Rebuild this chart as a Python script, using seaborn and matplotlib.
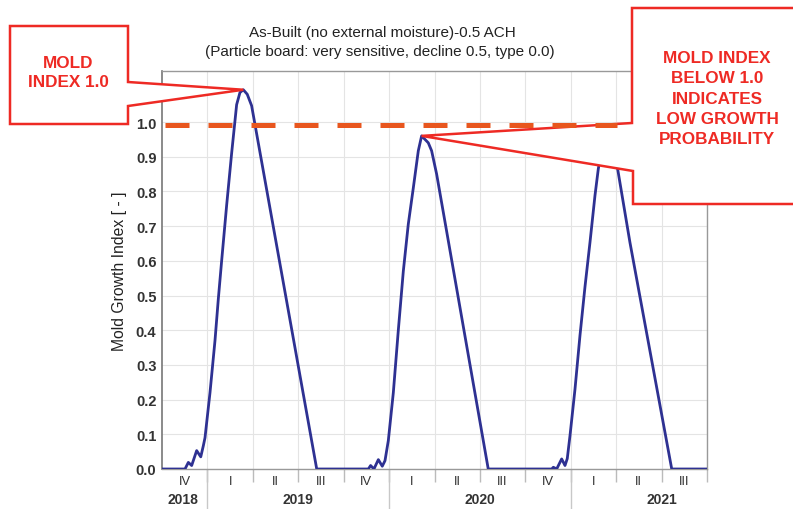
import numpy as np
import pandas as pd
import matplotlib
matplotlib.use("Agg")
import matplotlib.pyplot as plt
import seaborn as sns
from matplotlib.patches import Polygon
from matplotlib.transforms import blended_transform_factory

# ---------------- data ----------------
# months since 1 Oct 2018
months = [0, 1.52, 1.74, 1.96, 2.29, 2.56, 2.73, 2.84, 3.17, 3.50, 3.72, 3.94, 4.27, 4.60, 4.93, 5.15, 5.37,
          5.63, 5.92, 10.22,
          13.63, 13.78, 14.0, 14.29, 14.55, 14.73, 14.95, 15.28, 15.61, 15.94, 16.27, 16.60, 16.93, 17.15,
          17.59, 17.81, 18.14, 21.55,
          25.74, 25.85, 26.07, 26.4, 26.62, 26.77, 26.95, 27.28, 27.61, 27.94, 28.27, 28.60, 28.82, 29.05,
          29.3, 29.6, 29.85, 30.1, 30.91, 33.67, 36]
mold_index = [0, 0, 0.019, 0.01, 0.053, 0.035, 0.067, 0.09, 0.22, 0.37, 0.49, 0.60, 0.76, 0.91, 1.05,
              1.085, 1.093, 1.08, 1.047, 0,
              0, 0.01, 0, 0.027, 0.008, 0.024, 0.082, 0.22, 0.40, 0.57, 0.706, 0.81, 0.917, 0.96,
              0.94, 0.917, 0.85, 0,
              0, 0.005, 0, 0.029, 0.01, 0.03, 0.096, 0.23, 0.385, 0.525, 0.653, 0.788, 0.865, 0.92,
              0.955, 0.945, 0.91, 0.864, 0.653, 0, 0]
threshold = 0.99
quarter_labels = ["IV", "I", "II", "III", "IV", "I", "II", "III", "IV", "I", "II", "III"]
year_labels = ["2018", "2019", "2020", "2021"]
year_label_pos = [1.4, 9.0, 21.0, 33.0]
year_starts = [3, 15, 27]
ytick_vals = [0.0, 0.1, 0.2, 0.3, 0.4, 0.5, 0.6, 0.7, 0.8, 0.9, 1.0]
title_lines = ["As-Built (no external moisture)-0.5 ACH",
               "(Particle board: very sensitive, decline 0.5, type 0.0)"]
callout_left = "MOLD\nINDEX 1.0"
callout_right = "MOLD INDEX\nBELOW 1.0\nINDICATES\nLOW GROWTH\nPROBABILITY"

df = pd.DataFrame({"month": months, "index": mold_index})

# ---------------- style ----------------
sns.set_theme(style="white")
plt.rcParams["font.family"] = ["Liberation Sans", "DejaVu Sans"]

W, H = 793, 510
fig = plt.figure(figsize=(W / 100, H / 100), dpi=100)
ax = fig.add_axes([162 / W, 1 - 470 / H, (707 - 162) / W, (470 - 72) / H])


def fpx(x, y):
    return (x / W, 1 - y / H)


sns.lineplot(data=df, x="month", y="index", ax=ax, color="#2e3192", lw=2.0, zorder=3)

ax.set_xlim(0, 36)
ax.set_ylim(0, 1.147)

# grid
ax.set_xticks(np.arange(3, 37, 3))
ax.set_xticklabels([])
ax.set_yticks(ytick_vals)
ax.set_yticklabels([f"{v:.1f}" for v in ytick_vals], fontsize=10.5, fontweight="bold", color="#333333")
ax.grid(True, color="#e4e4e4", lw=0.8)
ax.tick_params(axis="y", length=0, pad=4)
ax.tick_params(axis="x", which="major", direction="out", length=9, color="#bbbbbb", width=1, bottom=True)
ax.set_xlabel("")
ax.set_ylabel("Mold Growth Index [ - ]", fontsize=11.3, color="#222222", labelpad=6)

for s in ["top", "right", "bottom"]:
    ax.spines[s].set_color("#999999")
    ax.spines[s].set_linewidth(1.0)
ax.spines["left"].set_color("#777777")
ax.spines["left"].set_linewidth(1.2)

trans = blended_transform_factory(ax.transData, ax.transAxes)
for i, q in enumerate(quarter_labels):
    ax.text(1.5 + 3 * i, -0.030, q, transform=trans, ha="center", va="center",
            fontsize=9.3, color="#333333")
for lab, pos in zip(year_labels, year_label_pos):
    ax.text(pos, -0.076, lab, transform=trans, ha="center", va="center",
            fontsize=10, fontweight="bold", color="#333333")
for ys in year_starts:
    ax.plot([ys, ys], [0, -0.10], transform=trans, color="#c8c8c8", lw=1, clip_on=False)

# title
fig.text(*fpx(382, 33), title_lines[0], ha="center", va="center", fontsize=11, color="#222222")
fig.text(*fpx(380, 52), title_lines[1], ha="center", va="center", fontsize=11, color="#222222")

# callouts (tips at peaks computed from data)
fig.canvas.draw()
inv = fig.transFigure.inverted()
i1 = int(np.argmax(mold_index[:20]))
i2 = 20 + int(np.argmax(mold_index[20:38]))
tip1 = inv.transform(ax.transData.transform((months[i1], mold_index[i1])))
tip2 = inv.transform(ax.transData.transform((months[i2], mold_index[i2])))

red = "#ee2a24"
poly1 = [fpx(10, 27), fpx(128, 27), fpx(128, 83), tuple(tip1), fpx(128, 107), fpx(128, 125), fpx(10, 125)]
poly2 = [fpx(632, 9), fpx(810, 9), fpx(810, 205), fpx(633, 205), fpx(633, 172), tuple(tip2), fpx(632, 124)]
for poly in (poly1, poly2):
    p = Polygon(poly, closed=True, facecolor="white", edgecolor=red, lw=1.8,
                transform=fig.transFigure, clip_on=False, zorder=10, joinstyle="miter")
    ax.add_patch(p)

# threshold dashed line (on top)
ax.plot([0.2, 30.05], [threshold, threshold], color="#e8561e", lw=3.6,
        dashes=(4.8, 3.8), solid_capstyle="butt", dash_capstyle="butt", zorder=11, clip_on=False)

fig.text(*fpx(68, 73), callout_left, ha="center", va="center", fontsize=12.3,
         fontweight="bold", color=red, linespacing=1.4, zorder=12)
fig.text(*fpx(717, 99), callout_right, ha="center", va="center", fontsize=12.3,
         fontweight="bold", color=red, linespacing=1.45, zorder=12)

fig.savefig("out.png", dpi=100)
